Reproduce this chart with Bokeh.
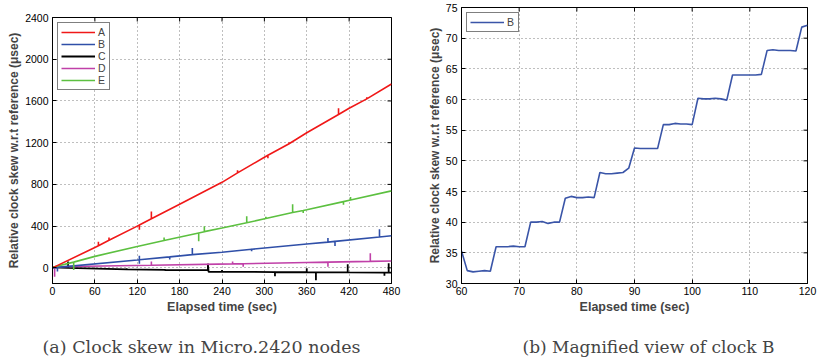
import math
from bokeh.plotting import figure
from bokeh.layouts import row, column
from bokeh.models import Range1d, FixedTicker, Legend, LegendItem, Title
from bokeh.embed import file_html
from bokeh.resources import INLINE

# ---------------- data: left panel (vertices) ----------------
a_x = [0, 60, 65, 65, 65, 80, 80, 80, 120, 123, 123, 123, 140, 140, 140, 180, 240, 262, 262, 262,
       300, 305, 305, 305, 335, 335, 335, 360, 405, 405, 405, 420, 445, 445, 445, 480]
a_y = [0, 195, 212, 250, 212, 265, 290, 265, 400, 410, 365, 410, 470, 540, 470, 610, 820, 910, 935, 910,
       1060, 1080, 1050, 1080, 1190, 1205, 1190, 1295, 1470, 1530, 1470, 1530, 1620, 1635, 1620, 1762]

e_x = [0, 30, 30, 30, 60, 120, 158, 158, 158, 207, 207, 207, 215, 215, 215, 240, 275, 275, 275,
       302, 302, 302, 340, 340, 340, 355, 355, 355, 360, 412, 412, 412, 422, 422, 422, 480]
e_y = [5, 55, -20, 55, 110, 205, 262, 290, 262, 335, 255, 335, 347, 400, 347, 382, 432, 495, 432,
       473, 490, 473, 530, 610, 530, 550, 525, 550, 557, 635, 605, 635, 650, 680, 650, 738]

b_x = [0, 7, 7, 7, 120, 123, 123, 123, 123, 166, 166, 166, 198, 198, 198, 240, 282, 282, 282,
       360, 390, 390, 390, 400, 400, 400, 463, 463, 463, 480]
b_y = [0, 5, -35, 5, 75, 77, 115, 40, 77, 105, 80, 105, 127, 190, 127, 150, 178, 160, 178,
       228, 247, 285, 247, 254, 210, 254, 296, 370, 296, 308]

d_x = [0, 3, 3, 3, 140, 140, 140, 255, 255, 255, 270, 270, 270, 360, 390, 390, 390, 450, 450, 450, 480]
d_y = [10, 10, -85, 10, 25, 60, 25, 38, 60, 38, 40, 10, 40, 52, 55, 10, 55, 62, 140, 62, 65]

c_x = [0, 22, 22, 22, 105, 105, 105, 160, 160, 160, 219, 220, 220, 221, 240, 240, 240, 315, 315, 315,
       360, 360, 360, 373, 373, 373, 418, 418, 418, 470, 470, 470, 476, 476, 476, 480]
c_y = [5, 0, 60, 0, -15, -5, -15, -20, -30, -20, -22, -22, 40, -38, -38, -20, -38, -40, -80, -40,
       -42, -5, -42, -43, -120, -43, -44, 35, -44, -45, -75, -45, -45, 45, -45, -45]

left_xticks = [0, 60, 120, 180, 240, 300, 360, 420, 480]
left_yticks = [0, 400, 800, 1200, 1600, 2000, 2400]

# ---------------- data: right panel (clock B, 60..120 s) ----------------
bz_t = list(range(60, 121))
bz_y = [35.3, 32.1, 31.9, 32.0, 32.1, 32.0,
        36.0, 36.0, 36.0, 36.1, 36.0, 36.0,
        40.0, 40.0, 40.1, 39.8, 40.0, 40.0,
        43.9, 44.2, 44.0, 44.0, 44.1, 44.0,
        48.1, 47.9, 47.9, 48.0, 48.1, 48.8,
        52.1, 52.0, 52.0, 52.0, 52.0,
        55.9, 55.9, 56.1, 56.0, 56.0, 55.9,
        60.2, 60.1, 60.1, 60.2, 60.1, 59.9,
        64.0, 64.0, 64.0, 64.0, 64.0, 64.1,
        68.0, 68.1, 68.0, 68.0, 68.0, 67.9,
        71.8, 72.1]
right_xticks = [60, 70, 80, 90, 100, 110, 120]
right_yticks = [30, 35, 40, 45, 50, 55, 60, 65, 70, 75]

FONT = "Liberation Sans"
SERIF = "DejaVu Serif"


def style(p, xticks, yticks):
    p.outline_line_color = "black"
    p.outline_line_width = 1
    for ax in p.xaxis + p.yaxis:
        ax.major_tick_in = 4
        ax.major_tick_out = 0
        ax.minor_tick_line_color = None
        ax.major_label_text_font = FONT
        ax.major_label_text_font_size = "10.5px"
        ax.major_label_text_color = "black"
        ax.axis_label_text_font = FONT
        ax.axis_label_text_font_style = "bold"
        ax.axis_line_color = "black"
        ax.major_tick_line_color = "black"
    p.xaxis.axis_label_text_font_size = "12.5px"
    p.yaxis.axis_label_text_font_size = "12px"
    p.xaxis.ticker = FixedTicker(ticks=xticks)
    p.yaxis.ticker = FixedTicker(ticks=yticks)
    p.xaxis.major_label_standoff = 3
    p.yaxis.major_label_standoff = 4
    p.xaxis.axis_label_standoff = 2
    p.yaxis.axis_label_standoff = 1
    p.xgrid[0].ticker = FixedTicker(ticks=xticks)
    p.ygrid[0].ticker = FixedTicker(ticks=yticks)
    for g in (p.xgrid[0], p.ygrid[0]):
        g.grid_line_color = "#7f7f7f"
        g.grid_line_dash = "1 3"
        g.grid_line_width = 1
    # mirrored inward tick marks on the top and right edges of the box
    xr, yr = p.x_range, p.y_range
    p.scatter(xticks, [yr.end] * len(xticks), marker="dash", angle=math.pi / 2, size=8,
              line_color="black", line_width=1)
    p.scatter([xr.end] * len(yticks), yticks, marker="dash", size=8,
              line_color="black", line_width=1)


def make_legend(items):
    return Legend(items=items, location="top_left", margin=5, padding=3, spacing=0,
                  glyph_width=34, glyph_height=12, label_height=12, label_width=8,
                  label_standoff=3, label_text_font=FONT, label_text_font_size="10.5px",
                  border_line_color="black", border_line_width=1.5, background_fill_alpha=1)


# ---------------- left figure ----------------
p1 = figure(width=405, height=364, frame_width=339, frame_height=266, title=None,
            min_border_left=52, min_border_right=14, min_border_top=17, min_border_bottom=10,
            x_range=Range1d(0, 480), y_range=Range1d(-150, 2400),
            output_backend="svg", toolbar_location=None)
p1.xaxis.axis_label = "Elapsed time (sec)"
p1.yaxis.axis_label = "Relative clock skew w.r.t reference (μsec)"
style(p1, left_xticks, left_yticks)

rC = p1.line(c_x, c_y, line_color="black", line_width=1.8)
rD = p1.line(d_x, d_y, line_color="#c040a8", line_width=1.6)
rB = p1.line(b_x, b_y, line_color="#2f4fa8", line_width=1.6)
rE = p1.line(e_x, e_y, line_color="#5cc040", line_width=1.6)
rA = p1.line(a_x, a_y, line_color="#f01818", line_width=1.6)

p1.add_layout(make_legend([LegendItem(label="A", renderers=[rA]), LegendItem(label="B", renderers=[rB]),
                           LegendItem(label="C", renderers=[rC]), LegendItem(label="D", renderers=[rD]),
                           LegendItem(label="E", renderers=[rE])]))
p1.add_layout(Title(text="(a) Clock skew in Micro.2420 nodes", align="left", offset=-10, standoff=37,
                    text_font=SERIF, text_font_size="17.5px", text_font_style="normal"), "below")

# ---------------- right figure ----------------
p2 = figure(width=413, height=364, frame_width=346, frame_height=276, title=None,
            min_border_left=56, min_border_right=11, min_border_top=7, min_border_bottom=10,
            x_range=Range1d(60, 120), y_range=Range1d(30, 75),
            output_backend="svg", toolbar_location=None)
p2.xaxis.axis_label = "Elapsed time (sec)"
p2.yaxis.axis_label = "Relative clock skew w.r.t reference (μsec)"
style(p2, right_xticks, right_yticks)
rBz = p2.line(bz_t, bz_y, line_color="#3a55a8", line_width=1.6)
p2.add_layout(make_legend([LegendItem(label="B", renderers=[rBz])]))
p2.add_layout(Title(text="(b) Magnified view of clock B", align="left", offset=61, standoff=37,
                    text_font=SERIF, text_font_size="17px", text_font_style="normal"), "below")

layout = row(column(p1), column(p2))
open("out.html", "w").write(file_html(layout, INLINE))
